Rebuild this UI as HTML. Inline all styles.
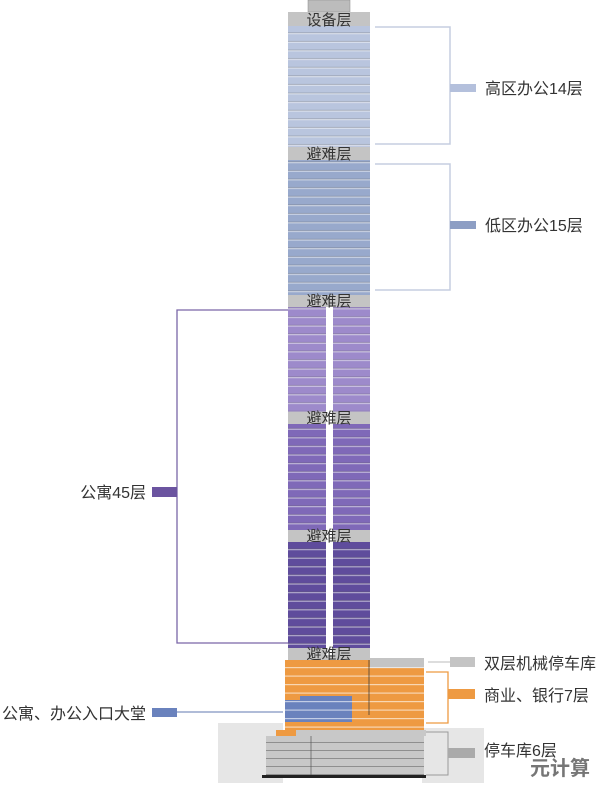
<!DOCTYPE html>
<html><head><meta charset="utf-8"><style>
body{margin:0;background:#fff;}
svg text{font-family:"Liberation Sans","Noto Sans CJK SC",sans-serif;}
</style></head><body>
<svg width="600" height="783" viewBox="0 0 600 783" xmlns="http://www.w3.org/2000/svg">
<defs>
<pattern id="fl" x="0" y="0" width="82" height="8.6" patternUnits="userSpaceOnUse">
<rect width="82" height="1.2" y="7.2" fill="#ffffff" opacity="0.55"/>
<rect width="82" height="0.8" y="6.6" fill="#555" opacity="0.35"/>
</pattern>
<pattern id="ol" x="0" y="660" width="200" height="8.5" patternUnits="userSpaceOnUse">
<rect width="200" height="1.2" y="7" fill="#fff" opacity="0.6"/>
</pattern>
<pattern id="gl" x="0" y="735" width="200" height="8" patternUnits="userSpaceOnUse">
<rect width="200" height="1" y="7" fill="#555" opacity="0.5"/>
</pattern>
</defs>
<rect x="218" y="723" width="65" height="60" fill="#e6e6e6"/>
<rect x="422" y="728" width="62" height="55" fill="#e6e6e6"/>
<rect x="308" y="0" width="42" height="12" fill="#bcbcbc" stroke="#888" stroke-width="0.5"/>
<rect x="288" y="12" width="82" height="14" fill="#c4c4c4"/>
<rect x="288" y="26" width="82" height="121" fill="#b9c5de"/>
<rect x="288" y="147" width="82" height="13" fill="#c4c4c4"/>
<rect x="288" y="160" width="82" height="135" fill="#98a9cc"/>
<rect x="288" y="295" width="82" height="12" fill="#c4c4c4"/>
<rect x="288" y="307" width="82" height="105" fill="#9d8acb"/>
<rect x="288" y="412" width="82" height="12" fill="#c4c4c4"/>
<rect x="288" y="424" width="82" height="106" fill="#7f69b8"/>
<rect x="288" y="530" width="82" height="12" fill="#c4c4c4"/>
<rect x="288" y="542" width="82" height="106" fill="#5f4c9c"/>
<rect x="288" y="648" width="82" height="12" fill="#c4c4c4"/>
<rect x="288" y="26" width="82" height="121" fill="url(#fl)"/>
<rect x="288" y="160" width="82" height="135" fill="url(#fl)"/>
<rect x="288" y="307" width="82" height="105" fill="url(#fl)"/>
<rect x="288" y="424" width="82" height="106" fill="url(#fl)"/>
<rect x="288" y="542" width="82" height="106" fill="url(#fl)"/>
<rect x="326" y="307" width="7" height="348" fill="#fff"/>
<g font-size="15" fill="#333" text-anchor="middle">
<text x="329" y="25">设备层</text>
<text x="329" y="159">避难层</text>
<text x="329" y="306">避难层</text>
<text x="329" y="423">避难层</text>
<text x="329" y="541">避难层</text>
<text x="329" y="659">避难层</text>
</g>
<rect x="285" y="660" width="139" height="62" fill="#ee9a42"/>
<rect x="370" y="658" width="54" height="10" fill="#c4c4c4"/>
<rect x="285" y="700" width="67" height="22" fill="#6a82bd"/>
<rect x="300" y="696" width="52" height="10" fill="#6a82bd"/>
<rect x="355" y="718" width="69" height="12" fill="#ee9a42"/>
<rect x="285" y="722" width="70" height="8" fill="#ee9a42"/>
<rect x="276" y="730" width="150" height="6" fill="#c8c8c8"/>
<rect x="276" y="730" width="20" height="9" fill="#ee9a42"/>
<rect x="285" y="660" width="139" height="70" fill="url(#ol)"/>
<rect x="266" y="736" width="158" height="39" fill="#c8c8c8"/>
<rect x="266" y="736" width="158" height="39" fill="url(#gl)"/>
<rect x="262" y="775" width="164" height="3" fill="#222"/>
<line x1="369" y1="660" x2="369" y2="715" stroke="#333" stroke-width="0.7"/>
<line x1="311" y1="736" x2="311" y2="775" stroke="#555" stroke-width="0.7"/>
<g fill="none" stroke="#c5cde0" stroke-width="1.5">
<polyline points="375,27 450,27 450,144 375,144"/>
<polyline points="375,164 450,164 450,290 375,290"/>
</g>
<rect x="450" y="84" width="26" height="8" fill="#b4c0dc"/>
<rect x="450" y="221" width="26" height="8" fill="#8d9ec4"/>
<g font-size="16" fill="#333">
<text x="485" y="94">高区办公14层</text>
<text x="485" y="231">低区办公15层</text>
<text x="484" y="669">双层机械停车库</text>
<text x="484" y="701">商业、银行7层</text>
<text x="484" y="756">停车库6层</text>
<text x="146" y="498" text-anchor="end">公寓45层</text>
<text x="146" y="719" text-anchor="end">公寓、办公入口大堂</text>
</g>
<polyline points="288,310 177,310 177,643 288,643" fill="none" stroke="#7a66a8" stroke-width="1.3"/>
<rect x="152" y="487" width="25" height="10" fill="#6b54a0"/>
<line x1="177" y1="712" x2="283" y2="712" stroke="#8095c0" stroke-width="1.3"/>
<rect x="152" y="708" width="25" height="9" fill="#6a82bd"/>
<line x1="428" y1="662" x2="450" y2="662" stroke="#bbb" stroke-width="1"/>
<rect x="450" y="657" width="25" height="10" fill="#c4c4c4"/>
<polyline points="426,672 448,672 448,723 426,723" fill="none" stroke="#ee9a42" stroke-width="1.3"/>
<rect x="448" y="689" width="27" height="10" fill="#ee9a42"/>
<polyline points="426,732 448,732 448,775 426,775" fill="none" stroke="#999" stroke-width="1"/>
<rect x="448" y="748" width="27" height="10" fill="#aaa"/>
<text x="530" y="775" font-size="20" font-weight="bold" fill="#555" opacity="0.8">元计算</text>
</svg>
</body></html>
